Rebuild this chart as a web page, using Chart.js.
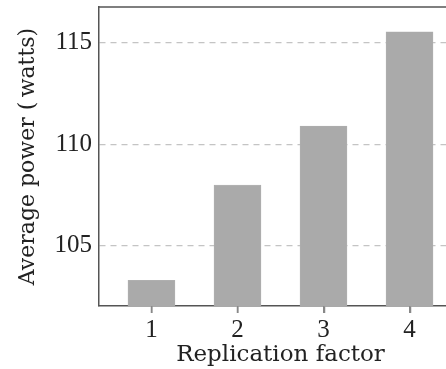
<!DOCTYPE html>
<html>
<head>
<meta charset="utf-8">
<script src="https://cdn.jsdelivr.net/npm/chart.js@4"></script>
<style>
  html, body { margin: 0; padding: 0; overflow: hidden; background: #fff; }
  #wrap { width: 446px; height: 369px; overflow: hidden; }
</style>
</head>
<body>
<div id="wrap"><canvas id="powerChart" width="480" height="369"></canvas></div>
<script>
// values
const replicationFactors = [1, 2, 3, 4];
const averagePower = [103.3, 108.0, 110.9, 115.55];
const yTicks = [105, 110, 115];

const serif = "'Liberation Serif', 'DejaVu Serif', serif";
const titleSerif = "'DejaVu Serif', 'Liberation Serif', serif";

// top frame line (no right border in the original crop) + small x tick marks
const frameTop = {
    id: 'frameTop',
    afterDraw(chart) {
        const a = chart.chartArea;
        const ctx = chart.ctx;
        const xs = chart.scales.x;
        ctx.save();
        ctx.strokeStyle = '#555';
        ctx.lineWidth = 1.5;
        ctx.beginPath();
        ctx.moveTo(a.left - 0.75, a.top);
        ctx.lineTo(a.right, a.top);
        ctx.stroke();

        ctx.strokeStyle = '#888';
        ctx.lineWidth = 1.5;
        ctx.beginPath();
        replicationFactors.forEach(v => {
            const px = Math.round(xs.getPixelForValue(v)) + 0.5;
            ctx.moveTo(px, a.bottom + 0.75);
            ctx.lineTo(px, a.bottom + 7);
        });
        ctx.stroke();
        ctx.restore();
    }
};

function noPad(s) {
    s.paddingTop = 0;
    s.paddingBottom = 0;
    s.paddingLeft = 0;
    s.paddingRight = 0;
}

function powerChart(id) {
    let points = [];
    for (let i = 0; i < replicationFactors.length; i++)
        points.push({x: replicationFactors[i], y: averagePower[i]});

    const data = {
        datasets: [{
            data: points,
            backgroundColor: '#aaaaaa',
            borderColor: '#b4b4b4',
            borderWidth: 0.5,
            barThickness: 47
        }]
    };

    const config = {
        type: 'bar',
        data: data,
        plugins: [frameTop],
        options: {
            responsive: false,
            animation: false,
            layout: { padding: { top: 7, right: 18, left: 0, bottom: 0 } },
            plugins: { legend: { display: false }, tooltip: { enabled: false } },
            scales: {
                x: {
                    type: 'linear',
                    offset: false,
                    min: 0.39,
                    max: 4.61,
                    afterBuildTicks: (s) => { s.ticks = replicationFactors.map(v => ({value: v})); },
                    afterFit: (s) => { s.height = 63; noPad(s); },
                    ticks: { color: '#222', font: { family: serif, size: 25 }, padding: 2, maxRotation: 0 },
                    grid: { offset: false, drawOnChartArea: false, drawTicks: true, tickLength: 7, color: '#888', lineWidth: 1.5 },
                    border: { display: true, color: '#555', width: 1.5 },
                    title: {
                        display: true,
                        text: 'Replication factor',
                        color: '#222',
                        font: { family: titleSerif, size: 23 },
                        padding: { top: 0, bottom: 0 }
                    }
                },
                y: {
                    min: 102.04,
                    max: 116.77,
                    afterBuildTicks: (s) => { s.ticks = yTicks.map(v => ({value: v})); },
                    afterFit: (s) => { s.width = 99; noPad(s); },
                    ticks: { color: '#222', font: { family: serif, size: 25 }, padding: 7 },
                    grid: { drawTicks: false, color: '#c4c4c4', lineWidth: 1.2 },
                    border: { display: true, color: '#555', width: 1.5, dash: [6, 5] },
                    title: {
                        display: true,
                        text: 'Average power (\u2009watts)',
                        color: '#222',
                        font: { family: titleSerif, size: 22 },
                        padding: { top: 15, bottom: 0 }
                    }
                }
            }
        }
    };

    let ctx = document.getElementById(id).getContext("2d");
    new Chart(ctx, config);
}

powerChart('powerChart');
</script>
</body>
</html>
